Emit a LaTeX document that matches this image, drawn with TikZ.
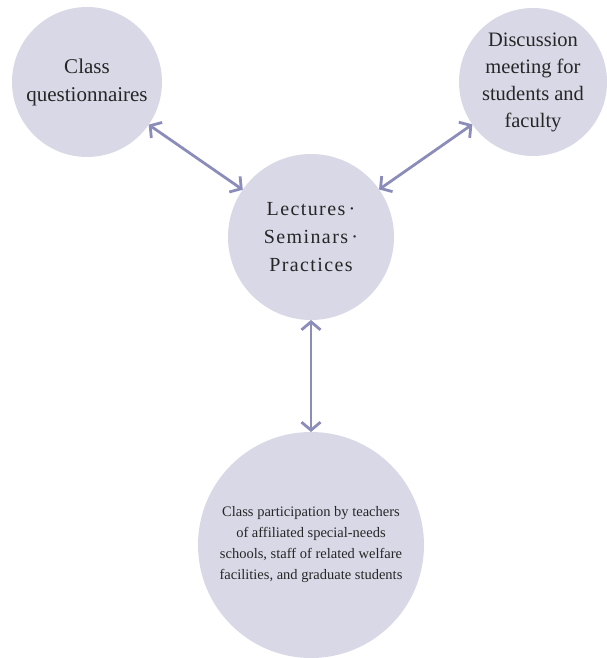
\documentclass[tikz,border=0pt]{standalone}
\usepackage{fontspec}
\setmainfont{Liberation Serif}
\usetikzlibrary{arrows.meta}
\definecolor{discfill}{HTML}{D9D8E6}
\definecolor{linkcol}{HTML}{8C8CBB}
\tikzset{
	disc/.style={circle,fill=discfill,inner sep=0pt,outer sep=0pt,align=center,text=black!85},
	link/.style={{Straight Barb[length=8pt,width=19pt]}-{Straight Barb[length=8pt,width=19pt]},draw=linkcol,line width=2.8pt}
}
\begin{document}
\begin{tikzpicture}[x=1pt,y=-1pt,line cap=butt,line join=miter]
			\useasboundingbox (0,0) rectangle (607,658);
			\node[disc,minimum size=150pt,font=\fontsize{21}{28}\selectfont] (quest) at (87,82) {Class\\questionnaires};
			\node[disc,minimum size=148pt,font=\fontsize{20.5}{27}\selectfont] (meet) at (533,82) {Discussion\\meeting for\\students and\\faculty};
			\node[disc,minimum size=166pt,font=\fontsize{20}{28}\selectfont\addfontfeature{LetterSpace=7}] (lect) at (311,237) {Lectures\,\textperiodcentered\\Seminars\,\textperiodcentered\\Practices};
			\node[disc,minimum size=226pt,font=\fontsize{14.5}{21}\selectfont] (part) at (311,545) {Class participation by teachers\\of affiliated special-needs\\schools, staff of related welfare\\facilities, and graduate students};
			
			\draw[link] (quest) -- (lect);
			\draw[link] (meet) -- (lect);
			\draw[link] (lect) -- (part);
		\end{tikzpicture}
\end{document}
